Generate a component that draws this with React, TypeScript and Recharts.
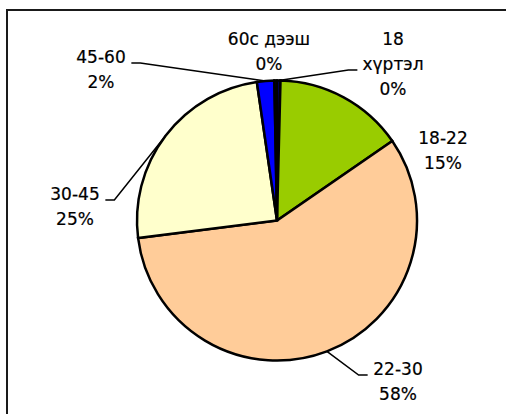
import { Cell, Pie, PieChart } from "recharts";

// age groups, clockwise from 12 o'clock
const categories = ["18 хүртэл", "18-22", "22-30", "30-45", "45-60", "60с дээш"];
const shares = [0.4, 15.0, 57.6, 24.7, 2.0, 0.3];
const colors = ["#000080", "#99CC00", "#FFCC99", "#FFFFCC", "#0000FF", "#000080"];

const data = categories.map((name, i) => ({ name, value: shares[i] }));

// hand placed labels (Excel style): text centre / first baseline relative to pie centre
type Spot = { dx: number; dy: number; wrap?: boolean; leader?: "left" | "right"; row?: number };
const labelSpots: Spot[] = [
  { dx: 116, dy: -176, wrap: true, leader: "left", row: 1 },
  { dx: 166, dy: -77 },
  { dx: 121, dy: 154, leader: "left", row: 0 },
  { dx: -202, dy: -21, leader: "right", row: 0 },
  { dx: -176, dy: -158, leader: "right", row: 0 },
  { dx: -8, dy: -176 },
];

const FONT = 17;
const LINE = 25;
const RADIAN = Math.PI / 180;

function renderLabel(props: any) {
  const { cx, cy, midAngle, outerRadius, percent, index, name } = props;
  const spot = labelSpots[index];
  const x = cx + spot.dx;
  const y = cy + spot.dy;
  const lines: string[] = spot.wrap ? [...name.split(" ")] : [name];
  lines.push(`${Math.round(percent * 100)}%`);

  let leader = null;
  if (spot.leader) {
    const row = spot.row ?? 0;
    const half = (lines[row].length * 0.62 * FONT) / 2;
    const ly = y + row * LINE + 0.5;
    const x0 = spot.leader === "left" ? x - half - 4 : x + half + 4;
    const x1 = spot.leader === "left" ? x0 - 9 : x0 + 9;
    const ax = cx + outerRadius * Math.cos(-midAngle * RADIAN);
    const ay = cy + outerRadius * Math.sin(-midAngle * RADIAN);
    leader = (
      <polyline
        points={`${x0},${ly} ${x1},${ly} ${ax},${ay}`}
        fill="none"
        stroke="#000"
        strokeWidth={1.5}
      />
    );
  }

  return (
    <g key={`lbl-${index}`}>
      {leader}
      <text
        x={x}
        y={y}
        textAnchor="middle"
        fontFamily="DejaVu Sans"
        fontSize={FONT}
        fill="#000"
        stroke="#000"
        strokeWidth={0.2}
      >
        {lines.map((t, i) => (
          <tspan key={i} x={x} y={y + i * LINE}>
            {t}
          </tspan>
        ))}
      </text>
    </g>
  );
}

export default function App() {
  return (
    <div
      style={{
        position: "absolute",
        left: 0,
        top: 0,
        width: 506,
        height: 414,
        overflow: "hidden",
        background: "#fff",
      }}
    >
      <div
        style={{
          position: "absolute",
          left: 6,
          top: 9,
          width: 600,
          height: 500,
          border: "2px solid #1a1a1a",
        }}
      />
      <div style={{ position: "absolute", left: 0, top: 0 }}>
        <PieChart width={506} height={414} margin={{ top: 0, right: 0, bottom: 0, left: 0 }}>
          <Pie
            data={data}
            dataKey="value"
            nameKey="name"
            cx={277}
            cy={220.5}
            outerRadius={140}
            startAngle={90}
            endAngle={-270}
            stroke="#000"
            strokeWidth={2.5}
            label={renderLabel}
            labelLine={false}
            isAnimationActive={false}
          >
            {data.map((d, i) => (
              <Cell key={d.name} fill={colors[i]} />
            ))}
          </Pie>
        </PieChart>
      </div>
    </div>
  );
}
